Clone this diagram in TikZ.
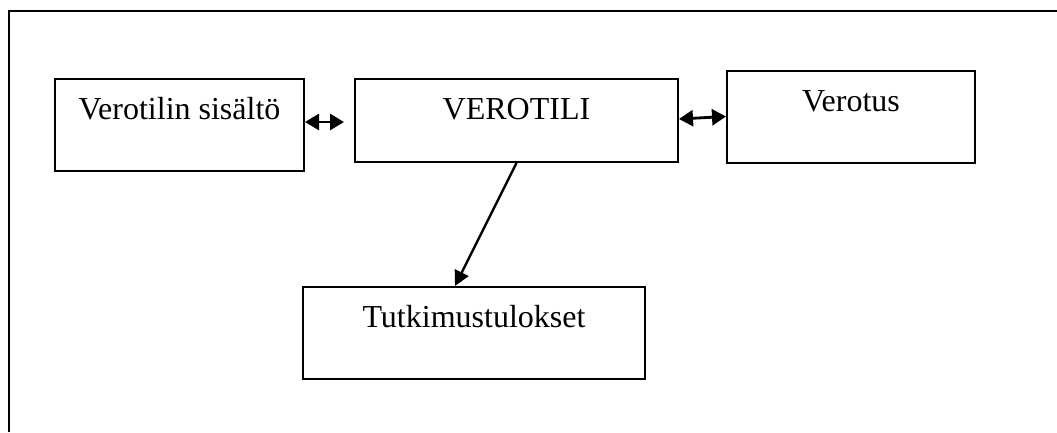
\documentclass[tikz,border=0pt]{standalone}
\usepackage{fontspec}
\setmainfont{Liberation Serif}
\usetikzlibrary{arrows.meta,calc}
\begin{document}
\begin{tikzpicture}[x=1pt,y=-1pt,
  box/.style={draw,line width=2pt,inner xsep=0pt,inner ysep=0pt,anchor=north west,
    font=\fontsize{32}{36}\selectfont,text height=40pt},
  dbl/.style={line width=2.8pt,{Triangle[length=14pt,width=16pt]}-{Triangle[length=14pt,width=16pt]}},
  sgl/.style={line width=2.4pt,-{Triangle[length=15pt,width=15pt]}}]
\useasboundingbox (0,0) rectangle (1057,432);
\coordinate (fl) at (9,432);
\coordinate (fc) at (9,11);
\coordinate (fr) at (1057,11);
\draw[line width=2.2pt] (fl) -- (fc) -- (fr);
\node[box,minimum width=249pt,text depth=52pt] (b1) at (54,78) {Verotilin sisältö};
\node[box,minimum width=323pt,text depth=43pt] (b2) at (354,78) {VEROTILI};
\node[box,minimum width=248pt,text depth=52pt] (b3) at (726,70) {Verotus};
\node[box,minimum width=342pt,text depth=52pt] (b4) at (302,286) {Tutkimustulokset};
\draw[dbl,shorten >=10pt] (b1.east |- 0,122) -- (b2.west |- 0,122);
\draw[dbl] (b2.east |- 0,119) -- (b3.west |- 0,116.5);
\draw[sgl] (b2.south) -- (b4.north -| 455,0);
\end{tikzpicture}
\end{document}
